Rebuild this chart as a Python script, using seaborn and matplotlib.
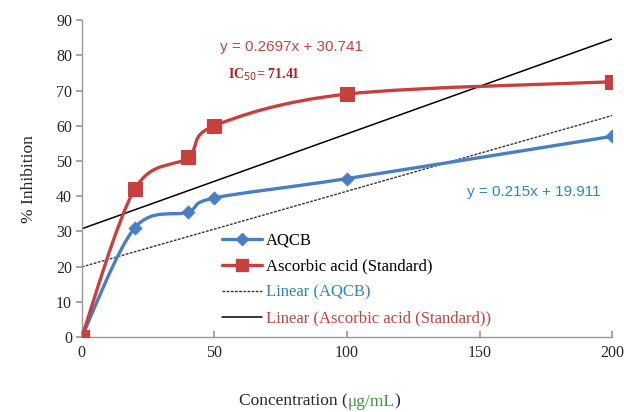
import numpy as np
import matplotlib
matplotlib.use("Agg")
import matplotlib.pyplot as plt
import seaborn as sns
from matplotlib.path import Path
from matplotlib.patches import PathPatch
from matplotlib.lines import Line2D

sns.set_theme(style="white")
plt.rcParams["font.family"] = ["Liberation Serif", "DejaVu Serif"]

# ── data ─────────────────────────────────────────────────────────────
conc = [0, 20, 40, 50, 100, 200]
aqcb = [0, 31, 35.5, 39.5, 45, 57]
ascorbic = [0, 42, 51, 60, 69, 72.5]
fit_aqcb = (0.215, 19.911)
fit_asc = (0.2697, 30.741)
x_ticks = [0, 50, 100, 150, 200]
y_ticks = [0, 10, 20, 30, 40, 50, 60, 70, 80, 90]

blue = "#4A7EC4"
red = "#C8403E"


def smooth_path(xs, ys):
    # Excel-style smoothed line: cubic Bezier segments (Catmull-Rom control points)
    pts = np.column_stack([xs, ys]).astype(float)
    verts = [pts[0]]
    codes = [Path.MOVETO]
    n = len(pts)
    for i in range(n - 1):
        p0 = pts[i - 1] if i > 0 else pts[i]
        p1, p2 = pts[i], pts[i + 1]
        p3 = pts[i + 2] if i + 2 < n else pts[i + 1]
        c1 = p1 + (p2 - p0) / 6.0
        c2 = p2 - (p3 - p1) / 6.0
        verts += [c1, c2, p2]
        codes += [Path.CURVE4] * 3
    return Path(verts, codes)


fig = plt.figure(figsize=(6.24, 4.12), dpi=100)
ax = fig.add_axes([0.131, 0.182, 0.850, 0.769])

# smoothed series
for ys, col in [(aqcb, blue), (ascorbic, red)]:
    ax.add_patch(PathPatch(smooth_path(conc, ys), facecolor="none",
                           edgecolor=col, linewidth=2.4, zorder=3))

sns.scatterplot(x=conc, y=aqcb, ax=ax, marker="D", s=45, color=blue,
                edgecolor=blue, zorder=4, legend=False)
sns.scatterplot(x=conc, y=ascorbic, ax=ax, marker="s", s=90, color=red,
                edgecolor=red, zorder=4, legend=False)

# linear trendlines
xl = np.array([0, 200])
ax.plot(xl, fit_aqcb[0] * xl + fit_aqcb[1], color="#333333",
        linestyle=(0, (2, 1)), linewidth=1.0, zorder=2)
ax.plot(xl, fit_asc[0] * xl + fit_asc[1], color="black",
        linewidth=1.1, zorder=2)

ax.set_xlim(0, 200)
ax.set_ylim(0, 90)
ax.set_xticks(x_ticks)
ax.set_yticks(y_ticks)
ax.tick_params(axis="y", direction="out", length=4, color="#999999",
               labelsize=11.5, left=True, pad=3)
ax.tick_params(axis="x", direction="in", length=4, color="#999999",
               labelsize=11.5, bottom=True, pad=6)
for s in ["top", "right"]:
    ax.spines[s].set_visible(False)
for s in ["left", "bottom"]:
    ax.spines[s].set_color("#999999")
    ax.spines[s].set_linewidth(1.0)
ax.grid(False)

ax.set_ylabel("% Inhibition", fontsize=12.5, labelpad=14)
ax.set_xlabel("")

# x-axis title with green unit, drawn as chained texts
t1 = fig.text(0.383, 0.015, "Concentration (", fontsize=12.5, va="baseline")
t2 = ax.annotate("μg/mL", xy=(1, 0), xycoords=t1, va="bottom",
                 fontsize=12.5, color="#3A9A3A", annotation_clip=False)
ax.annotate(")", xy=(1, 0), xycoords=t2, va="bottom", fontsize=12.5,
            annotation_clip=False)

# equations
ax.text(79, 82.4, "y = 0.2697x + 30.741", color=red, fontsize=11,
        family=["Liberation Sans", "DejaVu Sans"], ha="center", va="center")
ax.text(55, 74.4, r"IC$_{50}$= 71.41", color="#B02020", fontsize=10,
        fontweight="bold", va="center")
ax.text(195.5, 41.2, "y = 0.215x + 19.911", color="#2A84C8", fontsize=11,
        family=["Liberation Sans", "DejaVu Sans"], ha="right", va="center")

handles = [
    Line2D([], [], color=blue, lw=2.4, marker="D", markersize=6),
    Line2D([], [], color=red, lw=2.4, marker="s", markersize=8),
    Line2D([], [], color="#333333", lw=1.0, linestyle=(0, (2, 1))),
    Line2D([], [], color="black", lw=1.1),
]
labels = ["AQCB", "Ascorbic acid (Standard)", "Linear (AQCB)",
          "Linear (Ascorbic acid (Standard))"]
leg = ax.legend(handles, labels, loc="upper left",
                bbox_to_anchor=(0.252, 0.35), frameon=False, fontsize=12,
                handlelength=2.4, handletextpad=0.25, labelspacing=0.6,
                borderaxespad=0)
for t, c in zip(leg.get_texts(), ["black", "black", "#2A84C8", red]):
    t.set_color(c)

fig.savefig("out.png", dpi=100)
